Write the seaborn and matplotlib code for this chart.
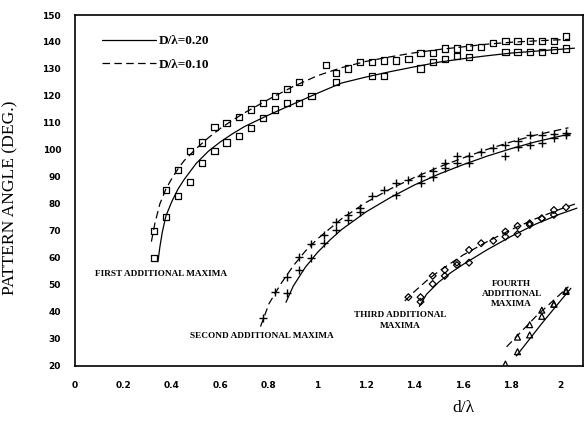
import matplotlib
matplotlib.use("Agg")
import matplotlib.pyplot as plt
from matplotlib.lines import Line2D
import seaborn as sns
import numpy as np

# ---------------- data ----------------
# First additional maxima (squares)
first_x_010 = [0.325, 0.375, 0.425, 0.475, 0.525, 0.575, 0.625, 0.675, 0.725, 0.775, 0.825, 0.875,
               0.925, 1.035, 1.075, 1.125, 1.175, 1.225, 1.275, 1.325, 1.375, 1.425, 1.475, 1.525,
               1.575, 1.625, 1.675, 1.725, 1.775, 1.825, 1.875, 1.925, 1.975, 2.025]
first_y_010 = [70, 85, 92.5, 99.7, 102.7, 108.6, 109.9, 112.3, 115, 117.5, 120, 122.7,
               125.3, 131.5, 128.4, 130.2, 132.7, 132.7, 133.1, 133.1, 133.6, 135.8, 135.8, 137.6,
               137.6, 138, 138, 139.7, 140.5, 140.5, 140.5, 140.5, 140.5, 142]
first_x_020 = [0.325, 0.375, 0.425, 0.475, 0.525, 0.575, 0.625, 0.675, 0.725, 0.775, 0.825, 0.875,
               0.925, 0.975, 1.075, 1.225, 1.275, 1.425, 1.475, 1.525, 1.575, 1.625, 1.775, 1.825,
               1.875, 1.925, 1.975, 2.025]
first_y_020 = [60, 75, 83, 88, 95, 99.7, 102.7, 105.2, 108, 111.7, 115, 117.3,
               117.5, 120, 125.3, 127.4, 127.4, 130.2, 132.7, 133.6, 134.8, 134.5, 136.2, 136.4,
               136.4, 136.4, 137, 137.6]

# Second additional maxima (plus signs)
second_x_010 = [0.775, 0.825, 0.875, 0.925, 0.975, 1.025, 1.075, 1.125, 1.175, 1.225, 1.275, 1.325,
                1.375, 1.425, 1.475, 1.525, 1.575, 1.625, 1.675, 1.725, 1.775, 1.825, 1.875, 1.925,
                1.975, 2.025]
second_y_010 = [37.6, 47.4, 53.0, 60.3, 65.0, 68.5, 73.4, 75.7, 78.4, 83.0, 85.0, 87.8,
                88.7, 90.5, 92.3, 95.3, 97.7, 97.7, 99.3, 100.6, 101.8, 103.4, 105.5, 105.5,
                105.9, 106.4]
second_x_020 = [0.875, 0.925, 0.975, 1.025, 1.075, 1.125, 1.175, 1.325, 1.425, 1.475, 1.525, 1.575,
                1.625, 1.775, 1.825, 1.875, 1.925, 1.975, 2.025]
second_y_020 = [46.8, 55.3, 60.0, 65.3, 70.3, 74.0, 77.1, 83.3, 87.8, 90.1, 93.2, 95.0,
                95.3, 97.7, 101.0, 101.8, 102.7, 104.3, 105.5]

# Third additional maxima (diamonds)
third_x_010 = [1.375, 1.475, 1.525, 1.575, 1.625, 1.675, 1.725, 1.775, 1.825, 1.875, 1.925, 1.975, 2.025]
third_y_010 = [45.4, 53.3, 55.5, 58.2, 62.9, 65.4, 66.3, 69.7, 71.8, 72.8, 74.6, 77.7, 78.7]
third_x_020 = [1.425, 1.425, 1.475, 1.525, 1.575, 1.625, 1.775, 1.825, 1.875, 1.925, 1.975]
third_y_020 = [45.4, 43.7, 50.3, 53.3, 57.3, 58.2, 67.8, 68.8, 72.2, 74.6, 75.9]

# Fourth additional maxima (triangles)
fourth_x_010 = [1.825, 1.875, 1.925, 1.975, 2.025]
fourth_y_010 = [30.6, 35.2, 40.6, 42.8, 47.9]
fourth_x_020 = [1.775, 1.825, 1.875, 1.925, 1.975, 2.025]
fourth_y_020 = [20.6, 25.2, 31.4, 38.3, 42.8, 47.5]

# Fitted curves
c1_x_010 = [0.315, 0.33, 0.35, 0.375, 0.40, 0.425, 0.45, 0.5, 0.55, 0.6, 0.65, 0.7, 0.8, 0.9,
            1.0, 1.1, 1.2, 1.3, 1.4, 1.5, 1.6, 1.7, 1.8, 1.9, 2.04]
c1_y_010 = [66, 73, 80, 85.5, 89.5, 93, 96, 100.5, 104.5, 108, 111, 113.8, 118.8, 123.5,
            127.5, 130.5, 132.8, 134.5, 136, 137.2, 138.2, 139.2, 139.9, 140.4, 141]
c1_x_020 = [0.342, 0.35, 0.36, 0.375, 0.4, 0.425, 0.45, 0.5, 0.55, 0.6, 0.65, 0.7, 0.8, 0.9,
            1.0, 1.1, 1.2, 1.3, 1.4, 1.5, 1.6, 1.7, 1.8, 1.9, 2.06]
c1_y_020 = [58.5, 64, 69.5, 75.5, 81, 85.5, 89, 95, 99.5, 103, 106, 108.7, 113, 117,
            121, 124.8, 127, 129, 130.8, 132.5, 133.8, 134.9, 135.9, 136.6, 137.7]
c2_x_010 = [0.765, 0.8, 0.85, 0.9, 0.95, 1.0, 1.1, 1.2, 1.3, 1.4, 1.5, 1.6, 1.7, 1.8, 1.9, 2.035]
c2_y_010 = [34.5, 43, 50.5, 57, 62.5, 67, 74.5, 80.5, 85.5, 89.8, 93.6, 97, 100.2, 103, 105.5, 108.2]
c2_x_020 = [0.87, 0.9, 0.95, 1.0, 1.05, 1.1, 1.2, 1.3, 1.4, 1.5, 1.6, 1.7, 1.8, 1.9, 2.045]
c2_y_020 = [43.5, 49.5, 56.5, 62, 66.5, 70.5, 77, 82.3, 87, 91, 94.5, 97.7, 100.5, 103, 106]
c3_x_010 = [1.36, 1.4, 1.45, 1.5, 1.55, 1.6, 1.7, 1.8, 1.9, 2.0, 2.07]
c3_y_010 = [44, 47.5, 51.5, 55, 58, 61, 66, 70.5, 74.5, 78, 80.2]
c3_x_020 = [1.42, 1.45, 1.5, 1.55, 1.6, 1.7, 1.8, 1.9, 2.0, 2.07]
c3_y_020 = [42, 46.5, 51, 54.5, 57.5, 63, 68, 72.5, 76.2, 78.4]
c4_x_010 = [1.78, 1.9, 2.035]
c4_y_010 = [27.0, 38.2, 49.3]
c4_x_020 = [1.82, 1.93, 2.045]
c4_y_020 = [23.6, 36.2, 48.7]

x_tick_labels = ['0', '0.2', '0.4', '0.6', '0.8', '1', '1.2', '1.4', '1.6', '1.8', '2']
y_ticks = [20, 30, 40, 50, 60, 70, 80, 90, 100, 110, 120, 130, 140, 150]
legend_labels = ['D/\u03bb=0.20', 'D/\u03bb=0.10']

# ---------------- figure ----------------
sns.set_theme(style="white")
plt.rcParams['font.family'] = ['DejaVu Sans']

fig = plt.figure(figsize=(5.84, 4.21), dpi=100)
ax = fig.add_axes([75 / 584, 55.3 / 421, 508 / 584, 350.7 / 421])

DASH = (0, (6, 3.5))
LW = 0.9

curves = [
    (c1_x_020, c1_y_020, '-'), (c1_x_010, c1_y_010, DASH),
    (c2_x_020, c2_y_020, '-'), (c2_x_010, c2_y_010, DASH),
    (c3_x_020, c3_y_020, '-'), (c3_x_010, c3_y_010, DASH),
    (c4_x_020, c4_y_020, '-'), (c4_x_010, c4_y_010, DASH),
]
for cx, cy, ls in curves:
    sns.lineplot(x=cx, y=cy, ax=ax, color='black', linewidth=LW, linestyle=ls,
                 sort=False, estimator=None)

open_kw = dict(facecolor='none', edgecolor='black', linewidth=0.9, zorder=3)
for xs, ys in [(first_x_010, first_y_010), (first_x_020, first_y_020)]:
    sns.scatterplot(x=xs, y=ys, ax=ax, marker='s', s=20, **open_kw)
for xs, ys in [(second_x_010, second_y_010), (second_x_020, second_y_020)]:
    sns.scatterplot(x=xs, y=ys, ax=ax, marker='+', s=30, color='black', linewidth=1.0, zorder=3)
for xs, ys in [(third_x_010, third_y_010), (third_x_020, third_y_020)]:
    sns.scatterplot(x=xs, y=ys, ax=ax, marker='D', s=12, **open_kw)
for xs, ys in [(fourth_x_010, fourth_y_010), (fourth_x_020, fourth_y_020)]:
    sns.scatterplot(x=xs, y=ys, ax=ax, marker='^', s=18, **open_kw)

ax.set_xlim(0, 2.095)
ax.set_ylim(20, 150)

xt = np.round(np.arange(0, 2.01, 0.1), 2)
ax.set_xticks(xt)
lab_iter = iter(x_tick_labels)
ax.set_xticklabels([next(lab_iter) if i % 2 == 0 else '' for i in range(len(xt))])
ax.set_yticks(y_ticks)
ax.set_yticklabels([str(v) for v in y_ticks])

tick_font = dict(family='DejaVu Sans', weight='bold', size=6.5)
for lab in ax.get_xticklabels() + ax.get_yticklabels():
    lab.set_fontproperties(matplotlib.font_manager.FontProperties(**tick_font))
ax.tick_params(axis='both', direction='out', length=5, width=1.0, color='black',
               labelcolor='black', pad=5)
ax.tick_params(axis='x', pad=6)

for sp in ax.spines.values():
    sp.set_visible(True)
    sp.set_color('black')
    sp.set_linewidth(1.2)

serif = ['Liberation Serif', 'DejaVu Serif']
ax.set_ylabel('PATTERN ANGLE (DEG.)', fontfamily=serif, fontsize=12.6, color='black')
ax.yaxis.set_label_coords(-0.112, 0.48)
ax.set_xlabel('d/\u03bb', fontfamily=serif, fontsize=12.5, color='black')
ax.xaxis.label.set_va('center')
ax.xaxis.set_label_coords(0.764, -0.12)

ann = dict(fontfamily=serif, fontweight='bold', fontsize=6.7, color='black',
           ha='center', va='center', linespacing=1.4)
ax.text(0.355, 54.0, 'FIRST ADDITIONAL MAXIMA', **ann)
ax.text(0.772, 31.0, 'SECOND ADDITIONAL MAXIMA', **ann)
ax.text(1.342, 36.7, 'THIRD ADDITIONAL\nMAXIMA', **ann)
ax.text(1.801, 46.6, 'FOURTH\nADDITIONAL\nMAXIMA', **ann)

handles = [Line2D([], [], color='black', linewidth=LW, linestyle='-'),
           Line2D([], [], color='black', linewidth=LW, linestyle=DASH)]
leg = ax.legend(handles, legend_labels, loc='upper left', frameon=False,
                bbox_to_anchor=(102 / 584, (421 - 35) / 421), bbox_transform=fig.transFigure,
                borderaxespad=0, borderpad=0, handlelength=4.1, handletextpad=0.2,
                labelspacing=0.85, prop=dict(family=serif, weight='bold', size=9.5))
for t in leg.get_texts():
    t.set_color('black')

fig.savefig('out.png', dpi=100, facecolor='white')
